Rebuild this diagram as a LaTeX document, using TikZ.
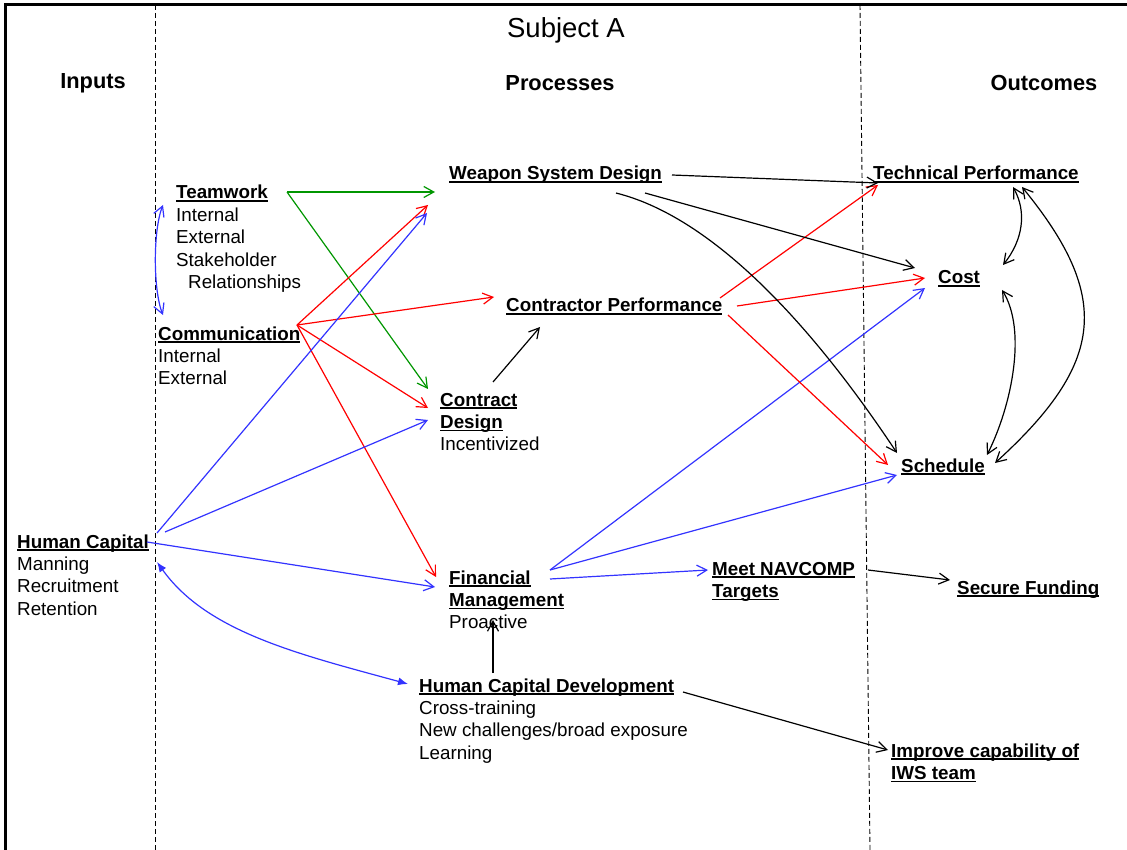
\documentclass[tikz,border=0pt]{standalone}
\usepackage{fontspec}
\setmainfont{Liberation Sans}
\usetikzlibrary{arrows.meta}
\definecolor{linkred}{RGB}{255,0,0}
\definecolor{linkgreen}{RGB}{0,150,0}
\definecolor{linkblue}{RGB}{51,51,255}
\newsavebox\ulnbox
\newcommand\uln[1]{\sbox\ulnbox{\textbf{#1}}\rlap{\rule[-3pt]{\wd\ulnbox}{1.8pt}}\usebox\ulnbox}
\newcommand\txtlines[1]{\begin{tabular}[t]{@{}l@{}}#1\end{tabular}}

\begin{document}
\begin{tikzpicture}[x=1pt,y=-1pt,
    txt/.style={anchor=base west,inner sep=0pt,font=\fontsize{18.8}{22.4}\selectfont},
    head/.style={inner sep=0pt,font=\fontsize{21.8}{26}\selectfont\bfseries},
    lnk/.style={line width=1.2pt,-{Straight Barb[length=10pt,width=11pt]}},
    twoway/.style={line width=1.2pt,{Straight Barb[length=10pt,width=11pt]}-{Straight Barb[length=10pt,width=11pt]}},
    column/.style={line width=0.9pt,dash pattern=on 5pt off 3pt}]
  \useasboundingbox (0,0) rectangle (1127,850);
  \draw [line width=3pt] (5,850) -- (5,5) -- (1127,5);
  \draw [column] (155,5) -- (155,850);
  \draw [column] (860,5) -- (870,850);

  \node [inner sep=0pt,font=\fontsize{27.5}{32}\selectfont] (title) at (566,30) {Subject A};
  \node [head] (inputs) at (93,83) {Inputs};
  \node [head] (processes) at (560,83) {Processes};
  \node [head] (outcomes) at (1044,83) {Outcomes};

  \node [txt] (team) at (176,199) {\txtlines{\uln{Teamwork}\\Internal\\External\\Stakeholder\\\hspace*{12pt}Relationships}};
  \node [txt] (comm) at (158,340) {\txtlines{\uln{Communication}\\Internal\\External}};
  \node [txt] (hc) at (17,548) {\txtlines{\uln{Human Capital}\\Manning\\Recruitment\\Retention}};
  \node [txt] (wsd) at (449,180) {\uln{Weapon System Design}};
  \node [txt] (cp) at (506,312) {\uln{Contractor Performance}};
  \node [txt] (cd) at (440,406) {\txtlines{\uln{Contract}\\\uln{Design}\\Incentivized}};
  \node [txt] (fm) at (449,584) {\txtlines{\uln{Financial}\\\uln{Management}\\Proactive}};
  \node [txt] (hcd) at (419,692) {\txtlines{\uln{Human Capital Development}\\Cross-training\\New challenges/broad exposure\\Learning}};
  \node [txt] (nav) at (712,575) {\txtlines{\uln{Meet NAVCOMP}\\\uln{Targets}}};
  \node [txt] (tp) at (873,180) {\uln{Technical Performance}};
  \node [txt] (cost) at (938,284) {\uln{Cost}};
  \node [txt] (sched) at (901,472) {\uln{Schedule}};
  \node [txt] (fund) at (957,594) {\uln{Secure Funding}};
  \node [txt] (iws) at (891,757) {\txtlines{\uln{Improve capability of}\\\uln{IWS team}}};

  \draw [lnk,linkgreen] ([shift={(111,-7)}]team.base west) -- ([shift={(-14,12)}]wsd.base west);
  \draw [lnk,linkgreen] ([shift={(111,-7)}]team.base west) -- ([shift={(-12,-17)}]cd.base west);

  \draw [lnk,linkred] ([shift={(139,-15)}]comm.base west) -- ([shift={(-21,25)}]wsd.base west);
  \draw [lnk,linkred] ([shift={(139,-15)}]comm.base west) -- ([shift={(-12,-15)}]cp.base west);
  \draw [lnk,linkred] ([shift={(139,-15)}]comm.base west) -- ([shift={(-12,2)}]cd.base west);
  \draw [lnk,linkred] ([shift={(139,-15)}]comm.base west) -- ([shift={(-13,-7)}]fm.base west);

  \draw [twoway,linkblue] ([shift={(-13,6)}]team.base west) .. controls +(-10,25) and +(-10,-25) .. ([shift={(5,-25)}]comm.base west);
  \draw [lnk,linkblue] ([shift={(140,-15)}]hc.base west) -- ([shift={(-22,33)}]wsd.base west);
  \draw [lnk,linkblue] ([shift={(148,-16)}]hc.base west) -- ([shift={(-12,14)}]cd.base west);
  \draw [lnk,linkblue] ([shift={(130,-6)}]hc.base west) -- ([shift={(-14,3)}]fm.base west);
  \draw [line width=1.2pt,linkblue,{Latex[length=10pt,width=8pt]}-{Latex[length=10pt,width=8pt]}]
    ([shift={(140,14)}]hc.base west) .. controls +(50,70) and +(-110,-30) .. ([shift={(-11,-8)}]hcd.base west);

  \draw [lnk,linkblue] ([shift={(101,-14)}]fm.base west) -- ([shift={(-13,4)}]cost.base west);
  \draw [lnk,linkblue] ([shift={(101,-14)}]fm.base west) -- ([shift={(-4,3)}]sched.base west);
  \draw [lnk,linkblue] ([shift={(101,-5)}]fm.base west) -- ([shift={(-4,-5)}]nav.base west);

  \draw [lnk,linkred] ([shift={(214,-14)}]cp.base west) -- ([shift={(5,5)}]tp.base west);
  \draw [lnk,linkred] ([shift={(231,-6)}]cp.base west) -- ([shift={(-13,-6)}]cost.base west);
  \draw [lnk,linkred] ([shift={(222,3)}]cp.base west) -- ([shift={(-13,-7)}]sched.base west);

  \draw [lnk] ([shift={(53,-24)}]cd.base west) -- ([shift={(34,15)}]cp.base west);
  \draw [lnk] ([shift={(223,-5)}]wsd.base west) -- ([shift={(5,3)}]tp.base west);
  \draw [lnk] ([shift={(196,13)}]wsd.base west) -- ([shift={(-23,-16)}]cost.base west);
  \draw [lnk] ([shift={(167,13)}]wsd.base west) .. controls +(120,30) and +(-50,-75) .. ([shift={(-4,-19)}]sched.base west);

  \draw [twoway] ([shift={(140,7)}]tp.base west) .. controls +(14,25) and +(20,-25) .. ([shift={(65,-19)}]cost.base west);
  \draw [twoway] ([shift={(149,7)}]tp.base west) .. controls +(90,110) and +(110,-100) .. ([shift={(94,-9)}]sched.base west);
  \draw [twoway] ([shift={(64,6)}]cost.base west) .. controls +(25,40) and +(25,-50) .. ([shift={(86,-17)}]sched.base west);

  \draw [lnk] ([shift={(156,-5)}]nav.base west) -- ([shift={(-7,-14)}]fund.base west);
  \draw [lnk] ([shift={(74,-19)}]hcd.base west) -- ([shift={(44,36)}]fm.base west);
  \draw [lnk] ([shift={(264,0)}]hcd.base west) -- ([shift={(-3,-7)}]iws.base west);
\end{tikzpicture}
\end{document}
